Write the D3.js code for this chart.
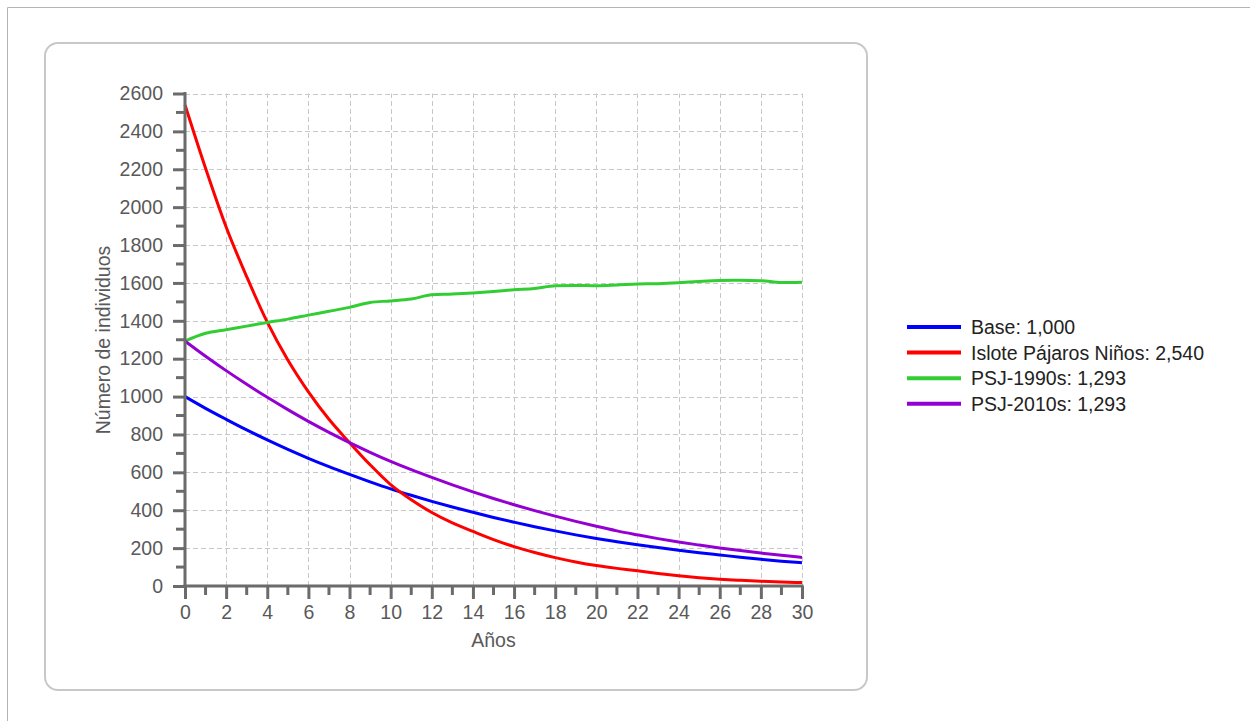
<!DOCTYPE html>
<html>
<head>
<meta charset="utf-8">
<script src="https://cdn.jsdelivr.net/npm/d3@7"></script>
<style>
  html, body { margin: 0; padding: 0; background: #fff; }
  svg { display: block; }
  text { font-family: "Liberation Sans", Arial, sans-serif; }
</style>
</head>
<body>
<div id="chart"></div>
<script>
(function () {
  "use strict";

  // ---- data ----
  const years = d3.range(0, 31);

  const base = [1000, 938, 880, 824, 771, 721, 674, 630, 589, 550, 513, 479, 447, 417, 389, 362,
                337, 313, 291, 270, 251, 234, 218, 203, 189, 176, 164, 152, 141, 131, 123];
  const islote = [2540, 2205, 1895, 1633, 1393, 1193, 1025, 880, 757, 640, 535, 455, 388, 333, 288, 245,
                  208, 177, 150, 127, 108, 93, 80, 66, 54, 44, 36, 30, 25, 21, 18];
  const psj1990 = [1293, 1334, 1353, 1372, 1391, 1409, 1430, 1450, 1471, 1497, 1505, 1515, 1537, 1541, 1547, 1555,
                   1564, 1571, 1585, 1587, 1585, 1589, 1594, 1596, 1601, 1608, 1613, 1614, 1612, 1602, 1604];
  const psj2010 = [1293, 1213, 1137, 1065, 996, 931, 869, 811, 757, 706, 658, 614, 573, 534, 497, 462,
                   429, 398, 369, 341, 315, 291, 270, 250, 232, 216, 201, 187, 174, 162, 151];

  const seriesNames = ["Base: 1,000", "Islote Pájaros Niños: 2,540", "PSJ-1990s: 1,293", "PSJ-2010s: 1,293"];
  const seriesColors = ["#0000ff", "#ff0000", "#32cd32", "#9400d3"];
  const seriesValues = [base, islote, psj1990, psj2010];

  const yMajor = d3.range(0, 2601, 200);
  const yMinor = d3.range(100, 2600, 200);
  const xMajor = d3.range(0, 31, 2);
  const xMinor = d3.range(1, 30, 2);

  const W = 1250, H = 721;
  const AXIS = "#6b6b6b";
  const LABEL = "#595959";
  const GRID = "#c8c8c8";
  const FONT = "19.5px";

  const svg = d3.select("#chart").append("svg")
    .attr("width", W).attr("height", H);

  /* page frame */
  svg.append("path")
    .attr("d", "M7.5," + H + "V7.5H" + W)
    .attr("fill", "none").attr("stroke", "#b4b4b4").attr("stroke-width", 1);

  /* rounded chart panel */
  svg.append("rect")
    .attr("x", 45).attr("y", 43).attr("width", 822).attr("height", 647)
    .attr("rx", 13).attr("ry", 13)
    .attr("fill", "#fff").attr("stroke", "#c8c8c8").attr("stroke-width", 2);

  const x = d3.scaleLinear().domain([0, 30]).range([185, 802]);
  const y = d3.scaleLinear().domain([0, 2600]).range([586, 93.5]);

  /* grid */
  const grid = svg.append("g")
    .attr("stroke", GRID).attr("stroke-width", 1).attr("stroke-dasharray", "5,3");
  grid.selectAll(".gy").data(yMajor.filter(d => d > 0)).enter().append("line")
    .attr("x1", x(0)).attr("x2", x(30))
    .attr("y1", d => Math.round(y(d)) + 0.5).attr("y2", d => Math.round(y(d)) + 0.5);
  grid.selectAll(".gx").data(xMajor.filter(d => d > 0)).enter().append("line")
    .attr("y1", y(0)).attr("y2", y(2600))
    .attr("x1", d => Math.round(x(d)) + 0.5).attr("x2", d => Math.round(x(d)) + 0.5);

  /* series */
  const line = d3.line()
    .x((d, i) => x(years[i]))
    .y(d => y(d))
    .curve(d3.curveMonotoneX);

  svg.append("g").selectAll("path")
    .data(seriesValues)
    .enter().append("path")
    .attr("d", line)
    .attr("fill", "none")
    .attr("stroke", (d, i) => seriesColors[i])
    .attr("stroke-width", 3)
    .attr("stroke-linejoin", "round");

  /* y axis */
  const gy = svg.append("g")
    .attr("transform", "translate(" + x(0) + ",0)")
    .call(d3.axisLeft(y).tickValues(yMajor).tickSize(12).tickPadding(10).tickFormat(d3.format("d")));
  gy.append("g").selectAll("line").data(yMinor).enter().append("line")
    .attr("x1", -9).attr("x2", 0)
    .attr("y1", d => y(d)).attr("y2", d => y(d));

  /* x axis */
  const gx = svg.append("g")
    .attr("transform", "translate(0," + y(0) + ")")
    .call(d3.axisBottom(x).tickValues(xMajor).tickSize(13).tickPadding(5).tickFormat(d3.format("d")));
  gx.append("g").selectAll("line").data(xMinor).enter().append("line")
    .attr("x1", d => x(d)).attr("x2", d => x(d))
    .attr("y1", 0).attr("y2", 9);

  [gx, gy].forEach(function (g) {
    g.select(".domain").remove();
    g.selectAll("line").attr("stroke", AXIS).attr("stroke-width", 3);
    g.selectAll("text")
      .attr("fill", LABEL)
      .style("font-size", FONT)
      .style("font-family", '"Liberation Sans", Arial, sans-serif');
  });
  gx.selectAll(".tick text").attr("dy", "0.78em");

  /* axis lines drawn on top */
  svg.append("line")
    .attr("x1", x(0)).attr("x2", x(0)).attr("y1", y(2600) - 1.5).attr("y2", y(0) + 1.5)
    .attr("stroke", AXIS).attr("stroke-width", 3);
  svg.append("line")
    .attr("x1", x(0) - 1.5).attr("x2", x(30) + 1.5).attr("y1", y(0)).attr("y2", y(0))
    .attr("stroke", AXIS).attr("stroke-width", 3);

  /* axis titles */
  svg.append("text")
    .attr("x", (x(0) + x(30)) / 2).attr("y", 647)
    .attr("text-anchor", "middle")
    .attr("fill", LABEL).style("font-size", FONT)
    .text("Años");

  svg.append("text")
    .attr("transform", "translate(110," + 340 + ") rotate(-90)")
    .attr("text-anchor", "middle")
    .attr("fill", LABEL).style("font-size", FONT)
    .text("Número de individuos");

  /* legend */
  const legend = svg.append("g").attr("transform", "translate(907,327)");
  const rows = legend.selectAll("g").data(seriesNames).enter().append("g")
    .attr("transform", (d, i) => "translate(0," + (i * 25.6) + ")");
  rows.append("line")
    .attr("x1", 0).attr("x2", 54).attr("y1", 0).attr("y2", 0)
    .attr("stroke", (d, i) => seriesColors[i]).attr("stroke-width", 4);
  rows.append("text")
    .attr("x", 64).attr("y", 0).attr("dy", "0.36em")
    .attr("fill", "#222").style("font-size", FONT)
    .text(d => d);
})();
</script>
</body>
</html>
